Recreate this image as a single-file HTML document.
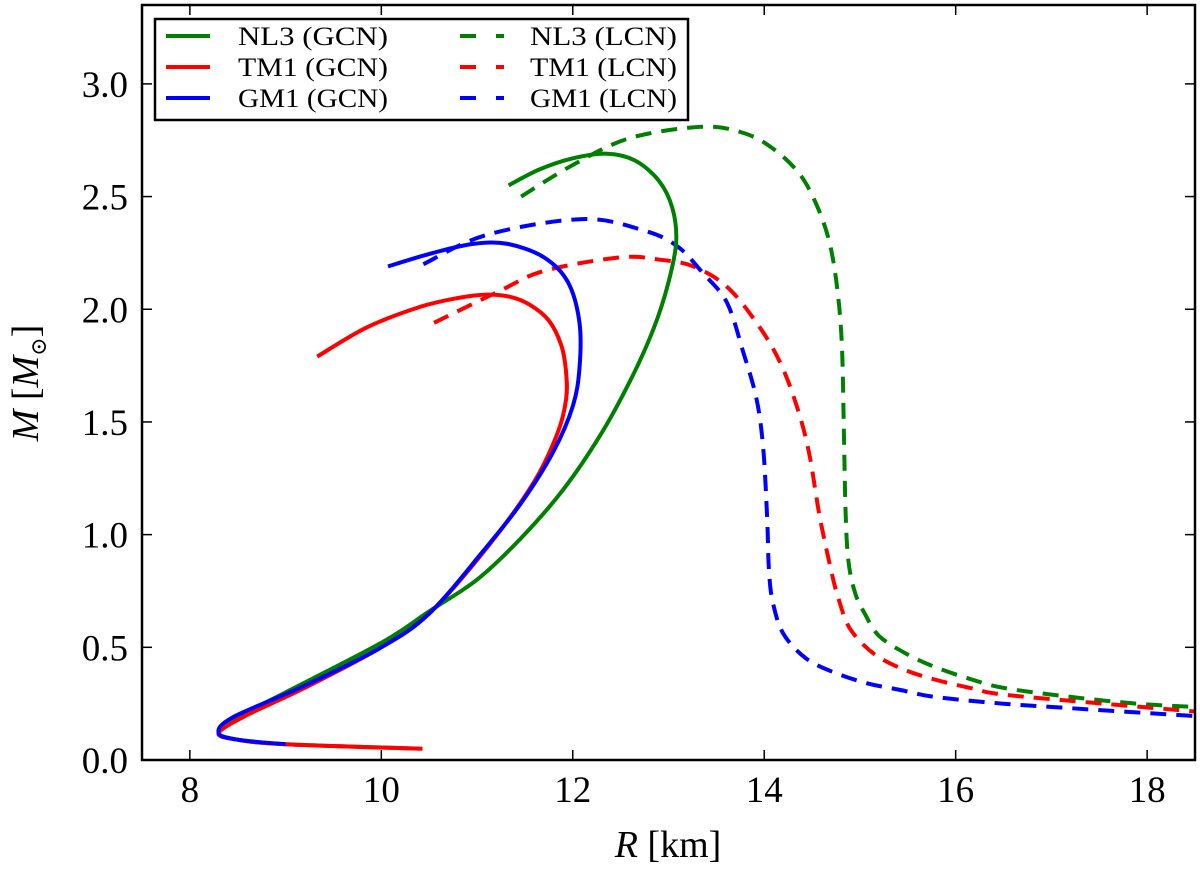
<!DOCTYPE html>
<html><head><meta charset="utf-8"><style>
body{margin:0;background:#fff}
svg text{font-family:"Liberation Serif","DejaVu Serif",serif;fill:#000}
</style></head><body>
<svg id="chart" width="1200" height="865" xmlns="http://www.w3.org/2000/svg">
<g id="plot"></g>
<rect x="142" y="5" width="1053" height="755" fill="none" stroke="#000" stroke-width="2.5"/>
<g id="ticks"></g>
<text x="668" y="857" font-size="38" text-anchor="middle"><tspan font-style="italic">R</tspan> [km]</text>
<text transform="translate(38,383) rotate(-90)" font-size="38" text-anchor="middle"><tspan font-style="italic">M</tspan> [<tspan font-style="italic">M</tspan><tspan font-size="22" dy="8">⊙</tspan><tspan dy="-8">]</tspan></text>
<g>
<rect x="155" y="19" width="533" height="101" fill="#fff" stroke="#000" stroke-width="2.5"/>
<g id="legend-entries"></g>
</g>
</svg>
<script>
const xTicks=[8,10,12,14,16,18];
const yTicks=[0.0,0.5,1.0,1.5,2.0,2.5,3.0];
const seriesNames=["NL3 (GCN)","TM1 (GCN)","GM1 (GCN)","NL3 (LCN)","TM1 (LCN)","GM1 (LCN)"];
const nl3GcnR=[10.4,9.0,8.5,8.3,8.45,9.0,10.0,10.5,11.0,11.45,11.9,12.3,12.62,12.85,13.0,13.08,13.04,12.9,12.65,12.36,12.0,11.65,11.33];
const nl3GcnM=[0.05,0.07,0.09,0.12,0.18,0.3,0.52,0.66,0.8,0.98,1.2,1.45,1.7,1.92,2.12,2.3,2.45,2.57,2.66,2.69,2.67,2.62,2.55];
const tm1GcnR=[10.43,9.0,8.5,8.3,8.6,9.2,10.0,10.5,11.1,11.59,11.84,11.93,11.93,11.88,11.75,11.55,11.35,11.1,10.8,10.4,9.85,9.33];
const tm1GcnM=[0.05,0.07,0.09,0.12,0.2,0.32,0.5,0.65,0.94,1.23,1.45,1.6,1.72,1.84,1.95,2.02,2.055,2.065,2.05,2.01,1.92,1.79];
const gm1GcnR=[9.0,8.5,8.3,8.45,9.2,10.0,10.5,11.07,11.46,11.8,12.0,12.07,12.07,11.95,11.7,11.32,10.96,10.54,10.07];
const gm1GcnM=[0.07,0.09,0.12,0.19,0.33,0.5,0.65,0.93,1.14,1.37,1.57,1.74,1.94,2.12,2.23,2.29,2.29,2.25,2.19];
const nl3LcnR=[11.46,12.0,12.6,13.36,13.8,14.1,14.37,14.55,14.68,14.76,14.81,14.83,14.85,14.88,14.95,15.05,15.2,15.49,15.8,16.15,16.5,17.2,17.9,18.5];
const nl3LcnM=[2.5,2.64,2.76,2.81,2.78,2.71,2.6,2.46,2.3,2.1,1.85,1.5,1.1,0.88,0.74,0.65,0.55,0.47,0.41,0.36,0.32,0.28,0.25,0.235];
const tm1LcnR=[10.55,11.23,11.7,12.49,12.91,13.26,13.61,13.92,14.16,14.34,14.47,14.58,14.7,14.78,14.9,15.15,15.47,15.8,16.15,16.5,17.55,18.5];
const tm1LcnM=[1.94,2.08,2.17,2.23,2.22,2.19,2.10,1.94,1.77,1.57,1.36,1.08,0.84,0.71,0.58,0.47,0.40,0.355,0.32,0.29,0.25,0.215];
const gm1LcnR=[10.44,11.1,12.1,12.74,13.09,13.36,13.61,13.78,13.92,13.99,14.03,14.05,14.09,14.2,14.44,14.75,15.08,15.43,15.78,16.5,17.2,18.5];
const gm1LcnM=[2.2,2.33,2.40,2.35,2.28,2.16,2.03,1.81,1.6,1.38,1.08,0.84,0.70,0.56,0.45,0.385,0.34,0.31,0.28,0.25,0.23,0.195];

const NS="http://www.w3.org/2000/svg";
const X0=142,X1=1195,Y0=760,Y1=5,xmin=7.5,xmax=18.5,ymin=0,ymax=3.35;
const sx=v=>X0+(v-xmin)/(xmax-xmin)*(X1-X0);
const sy=v=>Y0-(v-ymin)/(ymax-ymin)*(Y0-Y1);
function mk(tag,attrs,parent){const e=document.createElementNS(NS,tag);for(const k in attrs)e.setAttribute(k,attrs[k]);parent.appendChild(e);return e;}
const plot=document.getElementById('plot');
plot.setAttribute('clip-path','url(#clip)');
const defs=mk('defs',{},document.getElementById('chart'));
const cp=mk('clipPath',{id:'clip'},defs);mk('rect',{x:X0,y:Y1,width:X1-X0,height:Y0-Y1},cp);
const series=[
 [nl3LcnR,nl3LcnM,'#008000',true,'curve-nl3-lcn'],
 [tm1LcnR,tm1LcnM,'#ff0000',true,'curve-tm1-lcn'],
 [gm1LcnR,gm1LcnM,'#0000ff',true,'curve-gm1-lcn'],
 [nl3GcnR,nl3GcnM,'#008000',false,'curve-nl3-gcn'],
 [tm1GcnR,tm1GcnM,'#ff0000',false,'curve-tm1-gcn'],
 [gm1GcnR,gm1GcnM,'#0000ff',false,'curve-gm1-gcn']
];
function smooth(pts){let d='M'+pts[0][0]+','+pts[0][1];for(let i=0;i<pts.length-1;i++){const p0=pts[Math.max(0,i-1)],p1=pts[i],p2=pts[i+1],p3=pts[Math.min(pts.length-1,i+2)];const c1=[(p1[0]+(p2[0]-p0[0])/6).toFixed(1),(p1[1]+(p2[1]-p0[1])/6).toFixed(1)],c2=[(p2[0]-(p3[0]-p1[0])/6).toFixed(1),(p2[1]-(p3[1]-p1[1])/6).toFixed(1)];d+=' C'+c1.join(',')+' '+c2.join(',')+' '+p2.join(',');}return d;}
series.forEach(s=>{
 const pts=s[0].map((r,i)=>[+sx(r).toFixed(1),+sy(s[1][i]).toFixed(1)]);
 const p=mk('path',{d:smooth(pts),fill:'none',stroke:s[2],'stroke-width':4,'stroke-linejoin':'round'},plot);
 if(s[3])p.setAttribute('stroke-dasharray','16,10');
 
 
});
const tg=document.getElementById('ticks');
xTicks.forEach(v=>{const x=sx(v);
 const t1=mk('line',{x1:x,x2:x,y1:Y0,y2:Y0-10,stroke:'#000','stroke-width':1.5},tg);
 
 mk('line',{x1:x,x2:x,y1:Y1,y2:Y1+10,stroke:'#000','stroke-width':1.5},tg);
 const t=mk('text',{x:x,y:802,'font-size':37,'text-anchor':'middle'},tg);t.textContent=String(v);
 
});
yTicks.forEach(v=>{const y=sy(v);
 const t1=mk('line',{x1:X0,x2:X0+10,y1:y,y2:y,stroke:'#000','stroke-width':1.5},tg);
 
 mk('line',{x1:X1,x2:X1-10,y1:y,y2:y,stroke:'#000','stroke-width':1.5},tg);
 const t=mk('text',{x:128,y:y+13,'font-size':37,'text-anchor':'end'},tg);t.textContent=v.toFixed(1);
 
});
const lg=document.getElementById('legend-entries');
const lcol=['#008000','#ff0000','#0000ff'];
seriesNames.forEach((n,i)=>{const col=i<3?0:1,row=i%3;const y=36+row*31;
 const g=mk('g',{},lg);
 const lx=col?460:166;
 const l=mk('line',{x1:lx,x2:lx+44,y1:y,y2:y,stroke:lcol[row],'stroke-width':4},g);
 if(col)l.setAttribute('stroke-dasharray','16,20');
 const t=mk('text',{x:col?530:238,y:y+9,'font-size':26,textLength:col?147:150,lengthAdjust:'spacingAndGlyphs'},g);t.textContent=n;
});
</script>
</body></html>
